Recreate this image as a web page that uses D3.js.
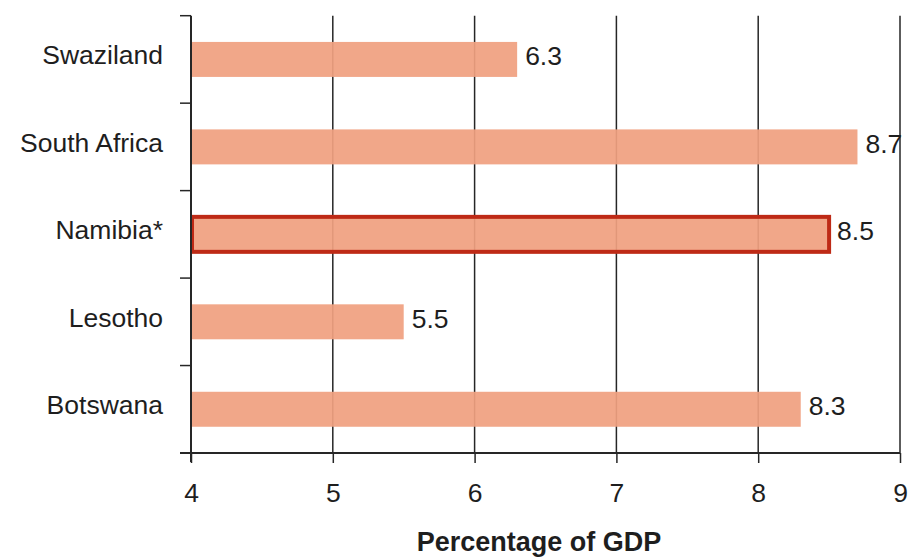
<!DOCTYPE html>
<html><head><meta charset="utf-8">
<script src="https://cdn.jsdelivr.net/npm/d3@7"></script>
<style>
html,body{margin:0;padding:0;background:#fff;}
svg text{font-family:"Liberation Sans",Arial,sans-serif;fill:#1e1e1e;}
</style></head>
<body><svg id="c" width="909" height="558"></svg>
<script>
const categories = ["Swaziland","South Africa","Namibia*","Lesotho","Botswana"];
const values = [6.3, 8.7, 8.5, 5.5, 8.3];
const highlighted = ["Namibia*"];
const xTicks = [4,5,6,7,8,9];
const xTitle = "Percentage of GDP";

(function(){
const data = categories.map((c,i)=>({c, v: values[i]}));
const svg = d3.select("#c");
const pLeft = 191, pRight = 900, pTop = 15.7, pBottom = 453;
const FS = 26.5;

const x = d3.scaleLinear().domain([4,9]).range([pLeft,pRight]);
const y = d3.scaleBand().domain(categories).range([pTop,pBottom]).paddingInner(0.6).paddingOuter(0.3);
const mid = c => y(c) + y.bandwidth()/2;

// vertical gridlines
svg.append("g").selectAll("line").data(xTicks.filter(t=>t>4)).join("line")
  .attr("x1",d=>x(d)).attr("x2",d=>x(d)).attr("y1",pTop).attr("y2",pBottom)
  .attr("stroke","#262626").attr("stroke-width",1.5);

// bars
svg.append("g").selectAll("rect").data(data).join("rect")
  .attr("x",x(4)+1).attr("y",d=>y(d.c))
  .attr("width",d=>x(d.v)-x(4)-1).attr("height",y.bandwidth())
  .attr("fill","#F0A080").attr("fill-opacity",0.93)
  .attr("stroke",d=>highlighted.includes(d.c)?"#BE2A16":"none")
  .attr("stroke-width",4);

// value labels
svg.append("g").selectAll("text").data(data).join("text")
  .attr("x",d=>x(d.v)+8).attr("y",d=>mid(d.c)+6)
  .attr("font-size",FS)
  .text(d=>d.v.toFixed(1));

// y axis
const yAxisG = svg.append("g");
yAxisG.append("line").attr("x1",pLeft).attr("x2",pLeft).attr("y1",pTop).attr("y2",pBottom+9)
  .attr("stroke","#262626").attr("stroke-width",2);
const bounds = d3.range(categories.length+1).map(i=>pTop+i*y.step());
yAxisG.selectAll("line.t").data(bounds).join("line").attr("class","t")
  .attr("x1",pLeft-11).attr("x2",pLeft).attr("y1",d=>d).attr("y2",d=>d)
  .attr("stroke","#262626").attr("stroke-width",1.5);
yAxisG.selectAll("text").data(categories).join("text")
  .attr("x",163).attr("y",d=>mid(d)+5)
  .attr("text-anchor","end").attr("font-size",FS)
  .text(d=>d);

// x axis
const xAxis = d3.axisBottom(x).tickValues(xTicks).tickSize(10).tickPadding(20).tickFormat(d3.format("d"));
const xg = svg.append("g").attr("transform",`translate(0,${pBottom})`).call(xAxis);
xg.select(".domain").remove();
xg.selectAll(".tick line").attr("stroke","#262626").attr("stroke-width",1.5);
xg.selectAll(".tick text").attr("font-size",FS).attr("fill","#1e1e1e")
  .attr("font-family","Liberation Sans, Arial, sans-serif");
svg.append("line").attr("x1",180).attr("x2",pRight).attr("y1",pBottom).attr("y2",pBottom)
  .attr("stroke","#262626").attr("stroke-width",2);

svg.append("text").attr("x",539).attr("y",551).attr("text-anchor","middle")
  .attr("font-size",FS+0.5).attr("font-weight","bold")
  .text(xTitle);
})();
</script></body></html>
